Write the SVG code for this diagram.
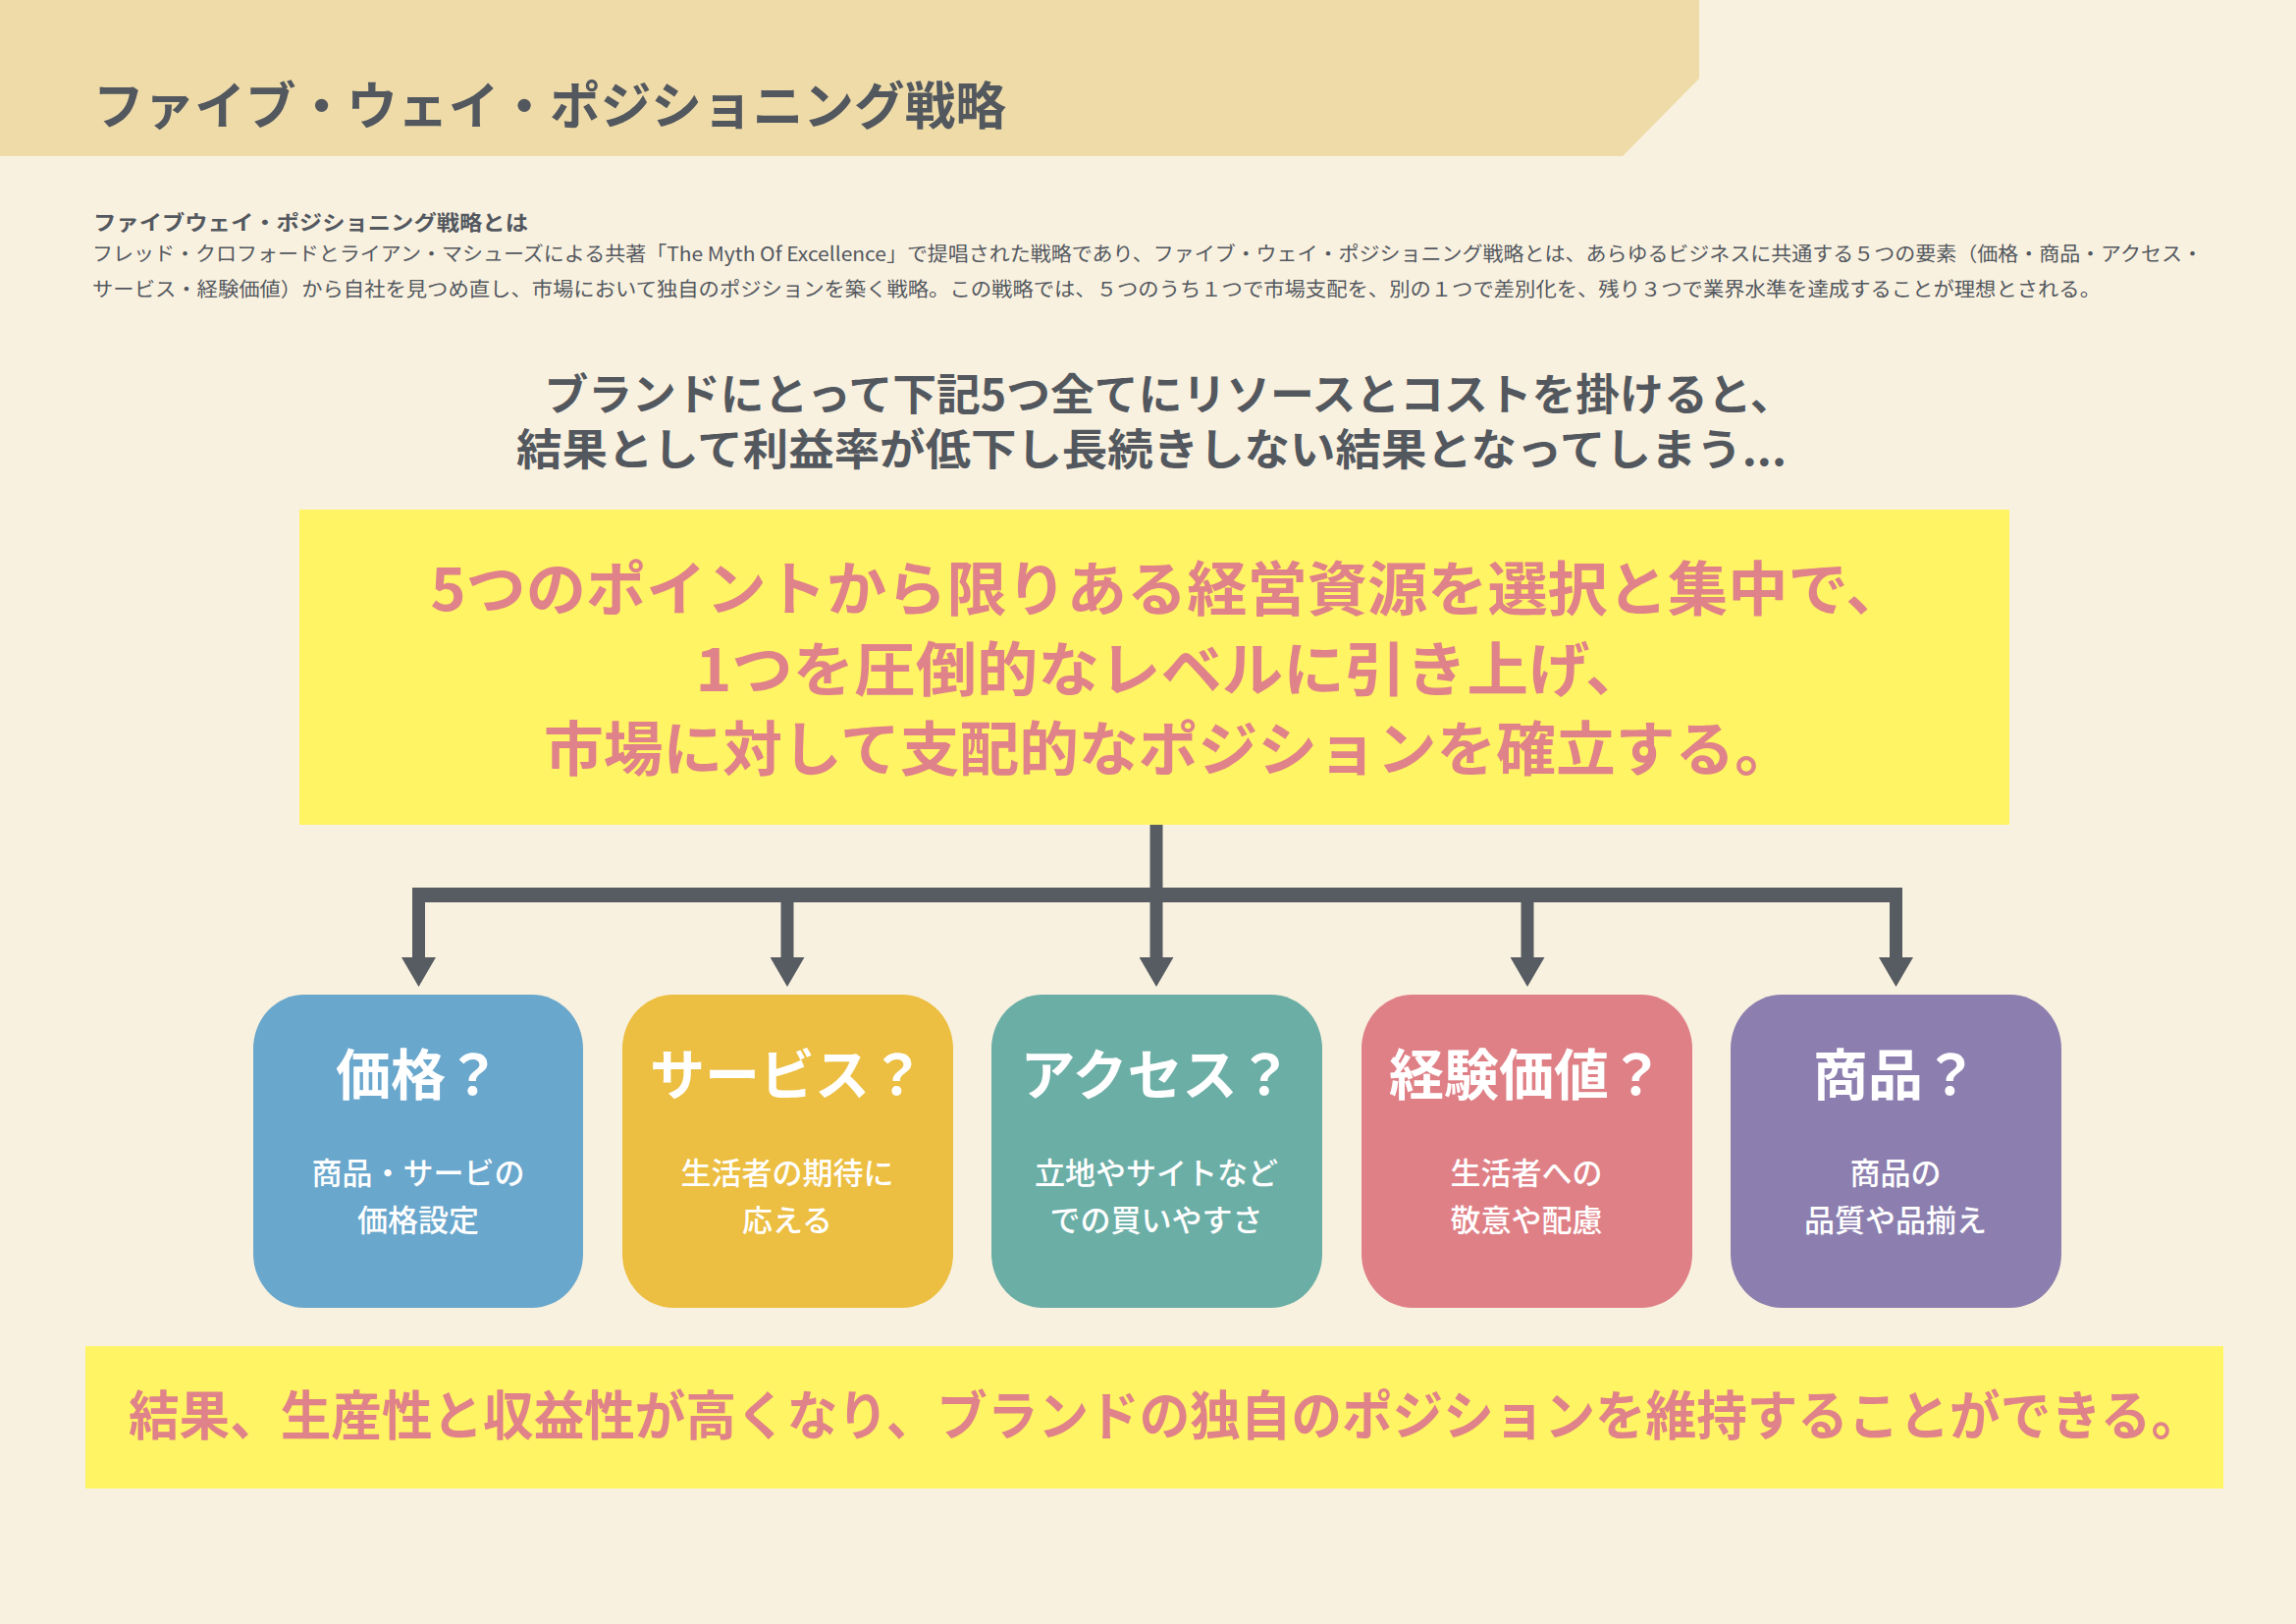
<svg xmlns="http://www.w3.org/2000/svg" width="2339" height="1654" viewBox="0 0 2339 1654">
<defs>
<style>
text{font-family:"Noto Sans CJK JP","Noto Sans",sans-serif;}
.gray{fill:#53585f;}
.b{font-weight:700;}
.pink{fill:#df8289;font-weight:700;}
.wt{fill:#ffffff;font-weight:700;text-anchor:middle;}
.ws{fill:#ffffff;font-weight:500;text-anchor:middle;font-size:31px;}
.conn{stroke:#575c63;fill:none;}
</style>
<marker id="ah" markerUnits="userSpaceOnUse" viewBox="0 0 30 35" refX="0" refY="17.5" markerWidth="30" markerHeight="35" orient="auto">
<path d="M0,0 L30,17.5 L0,35 z" fill="#575c63"/>
</marker>
</defs>
<rect x="0" y="0" width="2339" height="1654" fill="#f9f1df"/>
<g id="header">
<polygon points="0,0 1731,0 1731,80 1653,159 0,159" fill="#eedba8"/>
<text class="gray b" x="95" y="127" font-size="52" textLength="930" lengthAdjust="spacingAndGlyphs">ファイブ・ウェイ・ポジショニング戦略</text>
</g>
<g id="description">
<text class="gray b" x="95" y="234" font-size="21" textLength="443" lengthAdjust="spacingAndGlyphs">ファイブウェイ・ポジショニング戦略とは</text>
<text class="gray" x="94" y="266" font-size="20" textLength="2150" lengthAdjust="spacingAndGlyphs">フレッド・クロフォードとライアン・マシューズによる共著「The Myth Of Excellence」で提唱された戦略であり、ファイブ・ウェイ・ポジショニング戦略とは、あらゆるビジネスに共通する５つの要素（価格・商品・アクセス・</text>
<text class="gray" x="94" y="302" font-size="20" textLength="2046" lengthAdjust="spacingAndGlyphs">サービス・経験価値）から自社を見つめ直し、市場において独自のポジションを築く戦略。この戦略では、５つのうち１つで市場支配を、別の１つで差別化を、残り３つで業界水準を達成することが理想とされる。</text>
</g>
<g id="intro">
<text class="gray b" x="1191" y="418" font-size="44" text-anchor="middle" textLength="1273" lengthAdjust="spacingAndGlyphs">ブランドにとって下記5つ全てにリソースとコストを掛けると、</text>
<text class="gray b" x="1173" y="474" font-size="44" text-anchor="middle" textLength="1294" lengthAdjust="spacingAndGlyphs">結果として利益率が低下し長続きしない結果となってしまう...</text>
</g>
<g id="main">
<rect x="305" y="519" width="1742" height="321" fill="#fff463"/>
<text class="pink" x="1190" y="622" font-size="60" text-anchor="middle" textLength="1503" lengthAdjust="spacingAndGlyphs">5つのポイントから限りある経営資源を選択と集中で、</text>
<text class="pink" x="1193" y="704" font-size="60" text-anchor="middle" textLength="969" lengthAdjust="spacingAndGlyphs">1つを圧倒的なレベルに引き上げ、</text>
<text class="pink" x="1191" y="785" font-size="60" text-anchor="middle" textLength="1274" lengthAdjust="spacingAndGlyphs">市場に対して支配的なポジションを確立する。</text>
</g>
<g id="connectors">
<path class="conn" d="M1178,840 V904" stroke-width="13"/>
<path class="conn" d="M426.5,911.5 H1931.5" stroke-width="15" stroke-linejoin="round"/>
<path class="conn" d="M426.5,904 V975" stroke-width="13" marker-end="url(#ah)"/>
<path class="conn" d="M802,918 V975" stroke-width="13" marker-end="url(#ah)"/>
<path class="conn" d="M1178,918 V975" stroke-width="13" marker-end="url(#ah)"/>
<path class="conn" d="M1556,918 V975" stroke-width="13" marker-end="url(#ah)"/>
<path class="conn" d="M1931.5,904 V975" stroke-width="13" marker-end="url(#ah)"/>
</g>
<g id="node-price">
<rect x="258" y="1013" width="336" height="319" rx="52" ry="55" fill="#69a7cc"/>
<text class="wt" x="426" y="1115" font-size="56">価格？</text>
<text class="ws" x="426" y="1206">商品・サービの</text>
<text class="ws" x="426" y="1254">価格設定</text>
</g>
<g id="node-service">
<rect x="634" y="1013" width="337" height="319" rx="52" ry="55" fill="#ecbe41"/>
<text class="wt" x="802" y="1115" font-size="56">サービス？</text>
<text class="ws" x="802" y="1206">生活者の期待に</text>
<text class="ws" x="802" y="1254">応える</text>
</g>
<g id="node-access">
<rect x="1010" y="1013" width="337" height="319" rx="52" ry="55" fill="#6baea6"/>
<text class="wt" x="1178" y="1115" font-size="56">アクセス？</text>
<text class="ws" x="1178" y="1206">立地やサイトなど</text>
<text class="ws" x="1178" y="1254">での買いやすさ</text>
</g>
<g id="node-experience">
<rect x="1387" y="1013" width="337" height="319" rx="52" ry="55" fill="#df8086"/>
<text class="wt" x="1555" y="1115" font-size="56">経験価値？</text>
<text class="ws" x="1555" y="1206">生活者への</text>
<text class="ws" x="1555" y="1254">敬意や配慮</text>
</g>
<g id="node-product">
<rect x="1763" y="1013" width="337" height="319" rx="52" ry="55" fill="#8c7faf"/>
<text class="wt" x="1931" y="1115" font-size="56">商品？</text>
<text class="ws" x="1931" y="1206">商品の</text>
<text class="ws" x="1931" y="1254">品質や品揃え</text>
</g>
<g id="result">
<rect x="87" y="1371" width="2178" height="145" fill="#fff463"/>
<text class="pink" x="1187" y="1462" font-size="54" text-anchor="middle" textLength="2112" lengthAdjust="spacingAndGlyphs">結果、生産性と収益性が高くなり、ブランドの独自のポジションを維持することができる。</text>
</g>
</svg>
